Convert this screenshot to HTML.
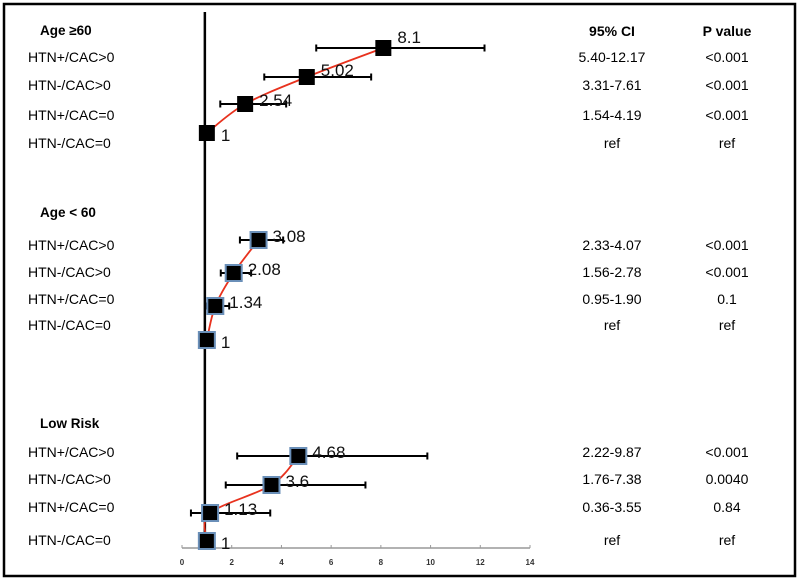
<!DOCTYPE html>
<html><head><meta charset="utf-8"><style>
body{margin:0;background:#fff;}
svg text{font-family:"Liberation Sans",sans-serif;}
</style></head><body>
<svg width="800" height="583" xmlns="http://www.w3.org/2000/svg">
<rect x="4" y="4" width="791" height="572" fill="none" stroke="#000" stroke-width="2.5"/>
<g id="plot"></g>
</svg>
<script>
const groups=["Age ≥60","Age < 60","Low Risk"];
const rowLabels=["HTN+/CAC>0","HTN-/CAC>0","HTN+/CAC=0","HTN-/CAC=0"];
const orValues=[[8.1,5.02,2.54,1],[3.08,2.08,1.34,1],[4.68,3.6,1.13,1]];
const orLabels=[["8.1","5.02","2.54","1"],["3.08","2.08","1.34","1"],["4.68","3.6","1.13","1"]];
const ciLow=[[5.40,3.31,1.54,null],[2.33,1.56,0.95,null],[2.22,1.76,0.36,null]];
const ciHigh=[[12.17,7.61,4.19,null],[4.07,2.78,1.90,null],[9.87,7.38,3.55,null]];
const ciText=[["5.40-12.17","3.31-7.61","1.54-4.19","ref"],["2.33-4.07","1.56-2.78","0.95-1.90","ref"],["2.22-9.87","1.76-7.38","0.36-3.55","ref"]];
const pText=[["<0.001","<0.001","<0.001","ref"],["<0.001","<0.001","0.1","ref"],["<0.001","0.0040","0.84","ref"]];
const xTicks=[0,2,4,6,8,10,12,14];

const NS="http://www.w3.org/2000/svg";
const g=document.getElementById('plot');
const xs=v=>182+v*(348/14);
const titleY=[30,212,423];
const labelY=[[57,85,115,143],[245,272,299,325],[452,479,507,540]];
const markY=[[48,77,104,133],[240,273,306,340],[456,485,513,541]];
function el(tag,attrs,txt){const e=document.createElementNS(NS,tag);for(const k in attrs)e.setAttribute(k,attrs[k]);if(txt!=null)e.textContent=txt;g.appendChild(e);return e;}

let h=el('text',{x:612,y:36,'font-size':14,'font-weight':'bold','text-anchor':'middle'},'95% CI');


h=el('text',{x:727,y:36,'font-size':14,'font-weight':'bold','text-anchor':'middle'},'P value');



let a=el('line',{x1:182,y1:548,x2:530,y2:548,stroke:'#999','stroke-width':1.5});


xTicks.forEach(t=>{
  let tl=el('line',{x1:xs(t),y1:545,x2:xs(t),y2:548,stroke:'#999'});
  
  
  let tt=el('text',{x:xs(t),y:565,'font-size':8,'font-weight':'bold','text-anchor':'middle',fill:'#333'},String(t));
  
  
});
let ref=el('line',{x1:xs(1)-2,y1:12,x2:xs(1)-2,y2:548,stroke:'#000','stroke-width':2.5});



groups.forEach((gr,gi)=>{
  let t=el('text',{x:40,y:titleY[gi]+5,'font-size':13.5,'font-weight':'bold'},gr);
  
  
  rowLabels.forEach((rl,ri)=>{
    const ly=labelY[gi][ri]+5;
    let l=el('text',{x:28,y:ly,'font-size':14},rl);
    
    
    let c=el('text',{x:612,y:ly,'font-size':14,'text-anchor':'middle'},ciText[gi][ri]);
    
    
    let p=el('text',{x:727,y:ly,'font-size':14,'text-anchor':'middle'},pText[gi][ri]);
    
    
  });
  const pts=orValues[gi].map((v,ri)=>[xs(v),markY[gi][ri]]).reverse();
  let d='M'+pts[0][0]+','+pts[0][1];
  for(let i=0;i<pts.length-1;i++){
    const p0=pts[Math.max(0,i-1)],p1=pts[i],p2=pts[i+1],p3=pts[Math.min(pts.length-1,i+2)];
    const c1=[p1[0]+(p2[0]-p0[0])/6,p1[1]+(p2[1]-p0[1])/6];
    const c2=[p2[0]-(p3[0]-p1[0])/6,p2[1]-(p3[1]-p1[1])/6];
    d+=` C${c1[0]},${c1[1]} ${c2[0]},${c2[1]} ${p2[0]},${p2[1]}`;
  }
  orValues[gi].forEach((v,ri)=>{
    const y=markY[gi][ri];
    if(ciLow[gi][ri]!=null){
      const x1=xs(ciLow[gi][ri]),x2=xs(ciHigh[gi][ri]);
      let e=el('path',{d:`M${x1},${y} H${x2} M${x1},${y-3.5} V${y+3.5} M${x2},${y-3.5} V${y+3.5}`,stroke:'#000','stroke-width':2,fill:'none'});
      
      
    }
  });
  let cv=el('path',{d:d,stroke:'#e8321e','stroke-width':1.8,fill:'none'});
  
  
  orValues[gi].forEach((v,ri)=>{
    const y=markY[gi][ri],x=xs(v);
    let s=el('rect',{x:x-8,y:y-8,width:16,height:16,fill:'#000',stroke:gi>0?'#6a8fb8':'#000','stroke-width':gi>0?2:0});
    
    
    let lt=el('text',{x:x+14,y:y+(ri==3?8:(gi==0&&ri==0?-5:(gi==0&&ri==1?-1:2))),'font-size':17,fill:'#111'},orLabels[gi][ri]);
    
    
  });
});
</script>
</body></html>
